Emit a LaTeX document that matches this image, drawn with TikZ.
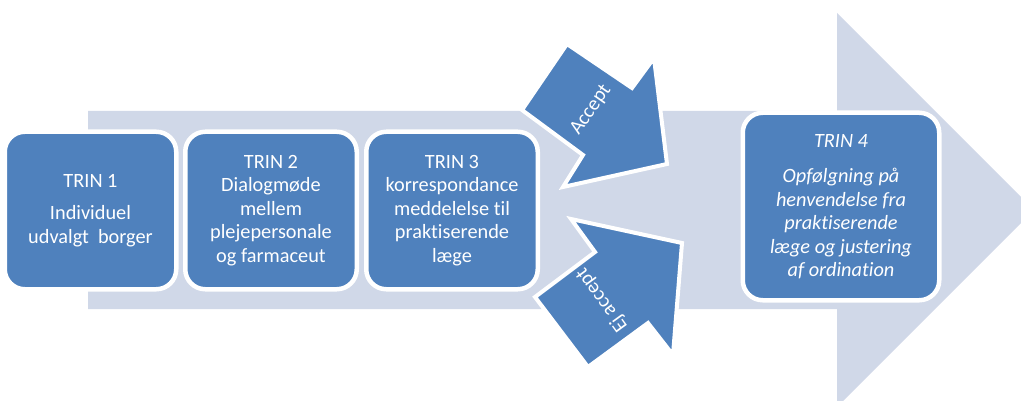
\documentclass[tikz,border=0pt]{standalone}
\usepackage{fontspec}
\setmainfont{Carlito}[Ligatures={NoCommon,NoContextual,NoRare}]
\definecolor{bluebox}{HTML}{4F81BD}
\definecolor{lightbg}{HTML}{D0D8E8}
\newcommand{\nolig}{\kern0pt{}}
\begin{document}
\begin{tikzpicture}[x=1pt,y=-1pt,
  stepbox/.style={draw=white, line width=4.5pt, fill=bluebox, rounded corners=20pt,
    text=white, align=center, font=\fontsize{20.3}{23.5}\selectfont, inner sep=0pt},
  smallarrow/.style={draw=white, line width=4pt, fill=bluebox, line join=miter},
  arrowlabel/.style={text=white, font=\fontsize{20.3}{23.5}\selectfont, inner sep=0pt}]
\useasboundingbox (0,0) rectangle (1021,401);
\clip (0,0) rectangle (1021,401);
% big background arrow
\fill[lightbg] (88,111) -- (837,111) -- (837,13) -- (1034,210) -- (837,407) -- (837,309) -- (88,309) -- cycle;
% step boxes
\node[stepbox, minimum width=171.5pt, minimum height=157.5pt] (t1) at (90.5,210.5)
  {TRIN 1\\[9pt]Individuel\\udvalgt\ \ borger};
\node[stepbox, minimum width=171.5pt, minimum height=157.5pt] (t2) at (271,210.5)
  {TRIN 2\\Dialogmøde\\mellem\\plejepersonale\\og farmaceut};
\node[stepbox, minimum width=171.5pt, minimum height=157.5pt] (t3) at (452,210.5)
  {TRIN 3\\korrespondance\\meddelelse t\nolig il\\prakt\nolig iserende\\læge};
\node[stepbox, minimum width=196.5pt, minimum height=187.5pt, font=\fontsize{20.3}{23.5}\selectfont\itshape] (t4) at (841,206.5)
  {TRIN 4\\[12pt]Opfølgning på\\henvendelse fra\\prakt\nolig iserende\\læge og justering\\af ordinat\nolig ion};
% accept arrow
\draw[smallarrow] (567,44) -- (632,88) -- (654,58) -- (667,164) -- (563,187) -- (583,155) -- (522,110) -- cycle;
\node[arrowlabel, rotate=55] (acc) at (591,110) {Accept};
% ej accept arrow
\draw[smallarrow] (535,297) -- (595,252) -- (571,219) -- (682,243) -- (673,355) -- (648,323) -- (588,367) -- cycle;
\node[arrowlabel, rotate=126] (ej) at (602,300) {Ej accept};
\end{tikzpicture}
\end{document}
